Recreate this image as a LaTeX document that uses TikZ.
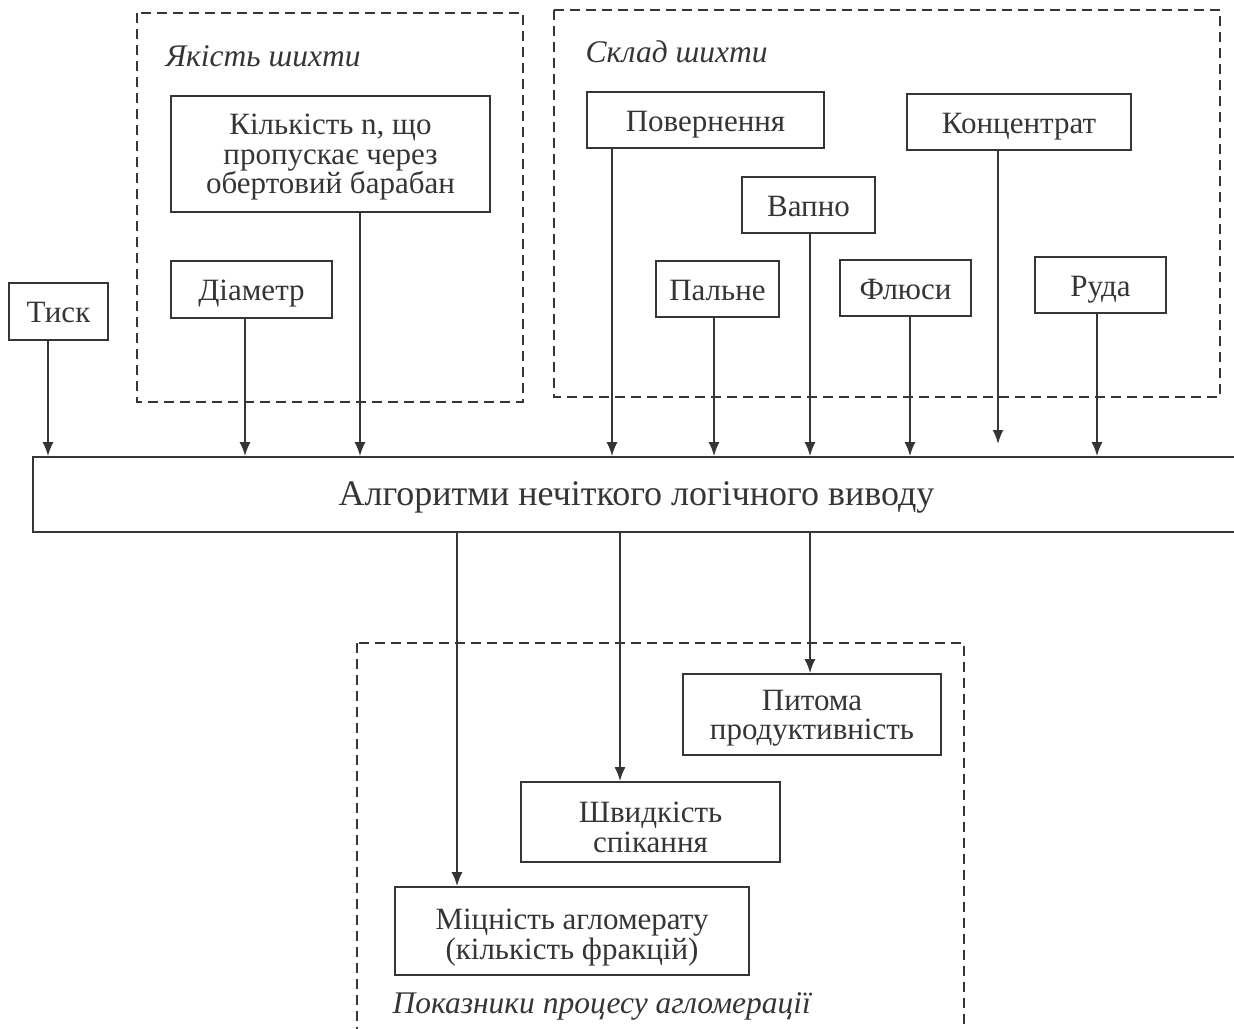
\documentclass[tikz,border=0pt]{standalone}
\usepackage{fontspec}
\setmainfont{Liberation Serif}
\usetikzlibrary{arrows.meta}
\definecolor{ink}{HTML}{353535}
% struts that fix where the lines of a box sit
\newcommand{\boxtop}[1]{\rule{0pt}{#1}}
\newcommand{\boxbottom}{\rule[-10pt]{0pt}{0pt}}

\begin{document}
\begin{tikzpicture}
[x=1pt, y=-1pt,
every node/.style = {align=center, text=ink, font=\fontsize{31}{29.5}\selectfont}]
\tikzstyle{box} = [rectangle, draw=ink, line width=1.8pt, inner sep=0pt,
  execute at begin node={\rule[-7pt]{0pt}{36pt}}, execute at end node={\rule[-7pt]{0pt}{36pt}}]
\tikzstyle{group} = [draw=ink, line width=1.5pt, dash pattern=on 10pt off 6pt]
\tikzstyle{grouplabel} = [anchor=west, font=\fontsize{31.5}{32}\selectfont\itshape]
\tikzstyle{link} = [draw=ink, line width=1.8pt, -{Latex[length=14pt,width=11pt]}]

\useasboundingbox (0,0) rectangle (1234,1028);

% dashed groups
\draw[group] (137,13) rectangle (523,402);
\draw[group] (554,10) rectangle (1220,397);
\draw[group] (357,643) rectangle (964,1034);
\node[grouplabel] (yakist) at (162,56) {Якість шихти};
\node[grouplabel] (sklad) at (582,52) {Склад шихти};
\node[grouplabel] (pokaz) at (389,1006) {Показники процесу агломерації};

% inputs
\node[box, minimum width=99, minimum height=57] (tysk) at (58.5,311.5) {Тиск};
\node[box, minimum width=319, minimum height=116] (kilk) at (330.5,154) {\boxtop{30pt}Кількість n, що\\пропускає через\\обертовий барабан\boxbottom};
\node[box, minimum width=161, minimum height=57] (diam) at (251.5,289.5) {Діаметр};
\node[box, minimum width=237, minimum height=56] (povern) at (705.5,120) {Повернення};
\node[box, minimum width=224, minimum height=56] (konc) at (1019,122) {Концентрат};
\node[box, minimum width=133, minimum height=56] (vapno) at (808.5,205) {Вапно};
\node[box, minimum width=123, minimum height=56] (palne) at (717.5,289) {Пальне};
\node[box, minimum width=131, minimum height=56] (flyusy) at (905.5,288) {Флюси};
\node[box, minimum width=131, minimum height=56] (ruda) at (1100.5,285) {Руда};

% inference
\node[box, minimum width=1207, minimum height=75, font=\fontsize{36}{38}\selectfont] (main) at (636.5,494.5) {Алгоритми нечіткого логічного виводу};

% outputs
\node[box, minimum width=258, minimum height=81] (pytoma) at (812,714.5) {\boxtop{31pt}Питома\\продуктивність\boxbottom};
\node[box, minimum width=259, minimum height=80] (shvyd) at (650.5,822) {\boxtop{38pt}Швидкість\\спікання};
\node[box, minimum width=354, minimum height=88] (micn) at (572,931) {\boxtop{37pt}Міцність агломерату\\(кількість фракцій)\boxbottom};

\coordinate (konc end) at (998,444);

\foreach \src/\x in {tysk/48, diam/245, kilk/360, povern/612, palne/714, vapno/810, flyusy/910, ruda/1097}
  \draw[link] (\x,0 |- \src.south) -- (\x,0 |- main.north);
\draw[link] (konc end |- konc.south) -- (konc end);

\draw[link] (457,0 |- main.south) -- (457,0 |- micn.north);
\draw[link] (620,0 |- main.south) -- (620,0 |- shvyd.north);
\draw[link] (810,0 |- main.south) -- (810,0 |- pytoma.north);

\end{tikzpicture}
\end{document}
